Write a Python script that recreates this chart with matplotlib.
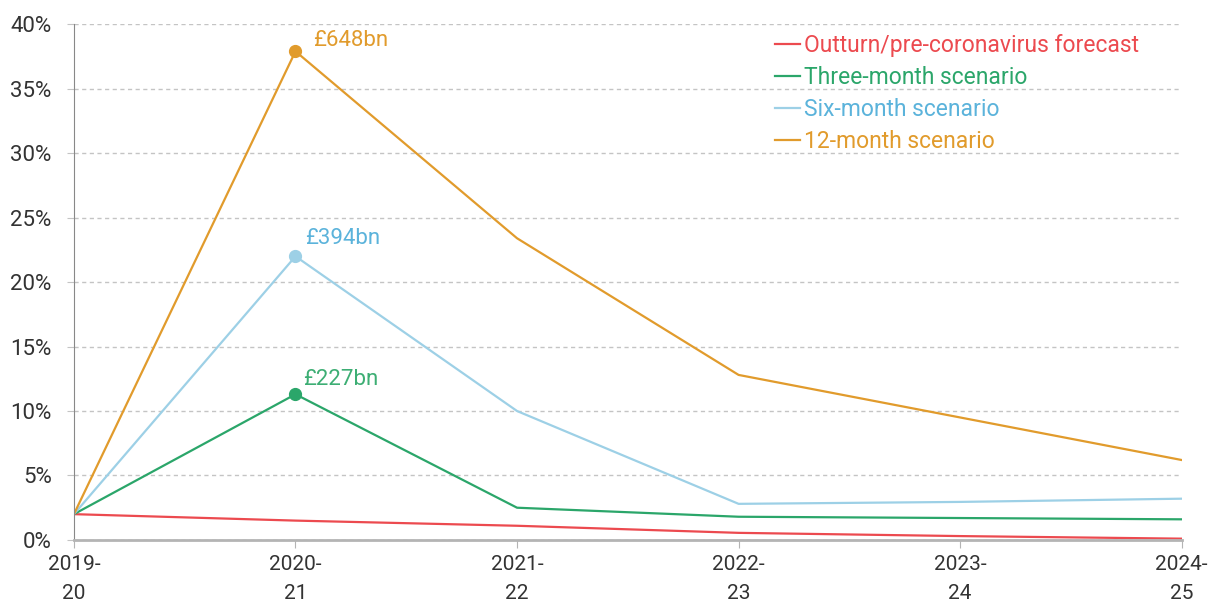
import matplotlib.pyplot as plt

# Data (share of GDP, %)
years = ['2019-\n20', '2020-\n21', '2021-\n22', '2022-\n23', '2023-\n24', '2024-\n25']
outturn = [2.0, 1.5, 1.1, 0.55, 0.3, 0.1]
three_month = [2.0, 11.3, 2.5, 1.8, 1.7, 1.6]
six_month = [2.0, 22.0, 10.0, 2.8, 2.95, 3.2]
twelve_month = [2.0, 37.9, 23.4, 12.8, 9.5, 6.2]

peak_labels = ['£227bn', '£394bn', '£648bn']

red = '#EC4A4F'
green = '#2BA66A'
blue = '#9DD0E6'
blue_text = '#5BB3DB'
orange = '#E19B2C'

plt.rcParams['font.family'] = ['Roboto', 'DejaVu Sans']

fig = plt.figure(figsize=(12.12, 6.06), dpi=100)
ax = fig.add_axes([0.061, 0.109, 0.914, 0.851])

x = list(range(len(years)))
ax.plot(x, outturn, color=red, lw=1.6, label='Outturn/pre-coronavirus forecast')
ax.plot(x, three_month, color=green, lw=1.6, label='Three-month scenario')
ax.plot(x, six_month, color=blue, lw=1.6, label='Six-month scenario')
ax.plot(x, twelve_month, color=orange, lw=1.6, label='12-month scenario')

# peak markers + labels (offsets in points from the peak point)
peaks = [(three_month, green, '#3DAE74', peak_labels[0], (5.5, 7)),
         (six_month, blue, blue_text, peak_labels[1], (7, 9)),
         (twelve_month, orange, orange, peak_labels[2], (13, 3.5))]
for series, col, tcol, lab, off in peaks:
    ax.plot(x[1], series[1], 'o', color=col, ms=8.5)
    ax.annotate(lab, (x[1], series[1]), xytext=off, textcoords='offset points',
                color=tcol, fontsize=16, va='baseline', ha='left')

ax.set_xlim(0, 5)
ax.set_ylim(0, 40)
ax.set_xticks(x)
ax.set_xticklabels(years, fontsize=15, color='#333333', linespacing=1.65)
ax.set_yticks(range(0, 41, 5))
ax.set_yticklabels([f'{v}%' for v in range(0, 41, 5)], fontsize=16, color='#333333')

ax.yaxis.grid(True, linestyle=(0, (3, 2.5)), color='#c4c4c4', lw=1)
ax.set_axisbelow(True)
for s in ['top', 'right']:
    ax.spines[s].set_visible(False)
ax.spines['left'].set_color('#888888')
ax.spines['left'].set_linewidth(0.8)
ax.spines['bottom'].set_color('#b4b4b4')
ax.spines['bottom'].set_linewidth(2)
ax.tick_params(axis='y', length=5, color='#c4c4c4', pad=11)
ax.tick_params(axis='x', length=6, color='#b4b4b4', pad=5)

leg = ax.legend(loc='upper left', bbox_to_anchor=(0.633, 0.982), frameon=False,
                handlelength=1.1, handletextpad=0.15, labelspacing=0.4,
                borderpad=0, borderaxespad=0, prop={'size': 16.5})
for t, c in zip(leg.get_texts(), [red, green, blue_text, orange]):
    t.set_color(c)

fig.savefig('out.png', dpi=100)
